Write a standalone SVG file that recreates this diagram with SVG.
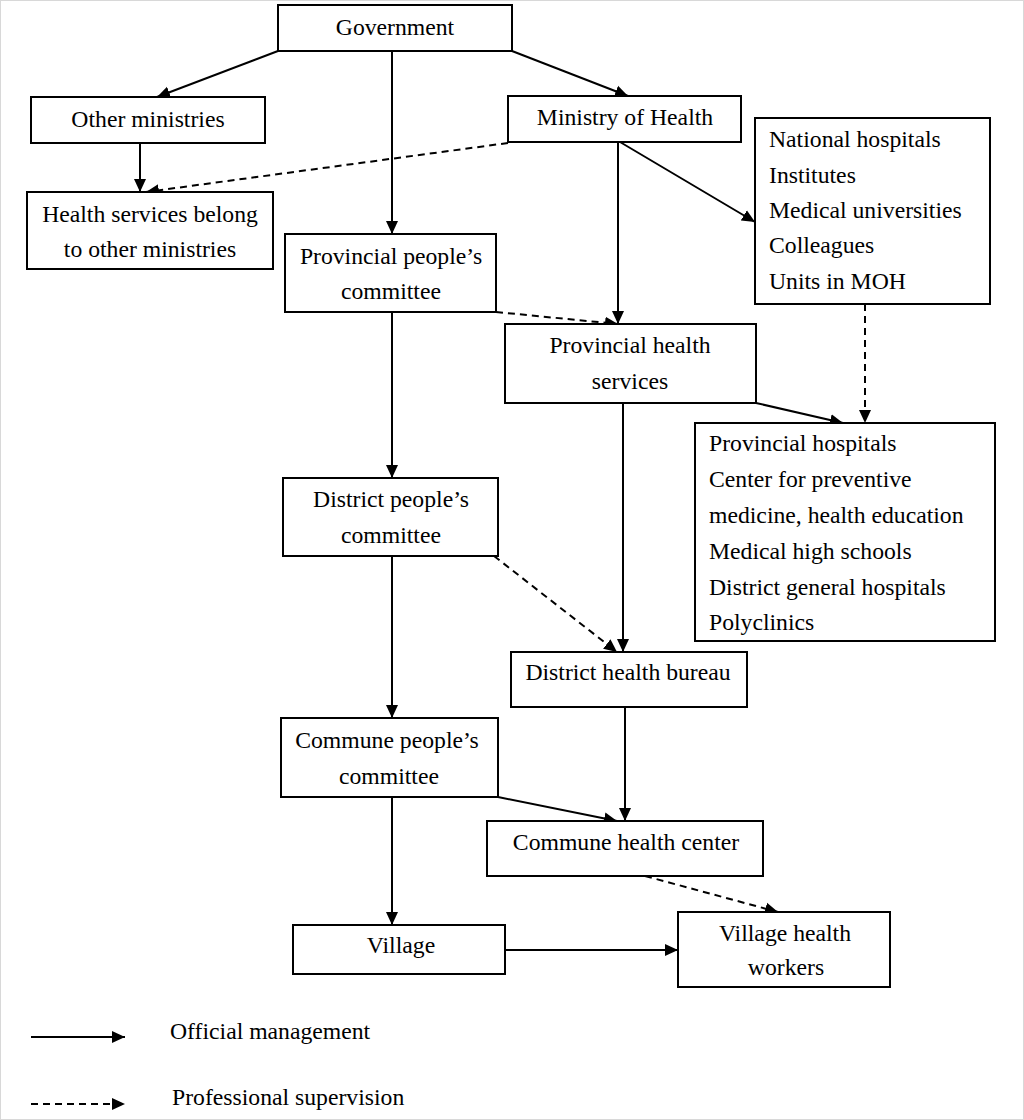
<svg xmlns="http://www.w3.org/2000/svg" width="1024" height="1120" viewBox="0 0 1024 1120">
<defs>
<marker id="ah" markerUnits="userSpaceOnUse" markerWidth="13" markerHeight="13" refX="13" refY="6.5" orient="auto" viewBox="0 0 13 13">
<path d="M0,0.5 L13,6.5 L0,12.5 z" fill="#000"/>
</marker>
</defs>
<style>
.box{fill:#fff;stroke:#000;stroke-width:2}
text{font-family:"Liberation Serif","Times New Roman",serif;font-size:23.7px;fill:#000}
.c{text-anchor:middle}
.s{stroke:#000;stroke-width:2;fill:none;marker-end:url(#ah)}
.d{stroke:#000;stroke-width:2;fill:none;stroke-dasharray:7 5;marker-end:url(#ah)}
</style>
<rect x="0.5" y="0.5" width="1023" height="1119" fill="#fff" stroke="#d8d8d8" stroke-width="1"/>
<g id="connectors">
<line class="s" x1="278" y1="51" x2="157" y2="97"/>
<line class="s" x1="392" y1="51" x2="392" y2="234"/>
<line class="s" x1="512" y1="51" x2="628" y2="96"/>
<line class="s" x1="140" y1="143" x2="140" y2="192"/>
<line class="d" x1="508" y1="143" x2="146" y2="192"/>
<line class="s" x1="618" y1="142" x2="618" y2="324"/>
<line class="s" x1="620" y1="142" x2="755" y2="222"/>
<line class="d" x1="496" y1="312" x2="618" y2="324"/>
<line class="d" x1="865" y1="304" x2="865" y2="423"/>
<line class="s" x1="756" y1="403" x2="843" y2="423"/>
<line class="s" x1="392" y1="312" x2="392" y2="478"/>
<line class="s" x1="623" y1="403" x2="623" y2="652"/>
<line class="d" x1="494" y1="556" x2="617" y2="652"/>
<line class="s" x1="392" y1="556" x2="392" y2="718"/>
<line class="s" x1="625" y1="707" x2="625" y2="821"/>
<line class="s" x1="498" y1="797" x2="617" y2="821"/>
<line class="s" x1="392" y1="797" x2="392" y2="925"/>
<line class="d" x1="645" y1="876" x2="778" y2="912"/>
<line class="s" x1="505" y1="950" x2="678" y2="950"/>
</g>
<g id="government"><rect class="box" x="278" y="5" width="234" height="46"/><text class="c" x="395" y="35">Government</text></g>
<g id="other-ministries"><rect class="box" x="31" y="97" width="234" height="46"/><text class="c" x="148" y="127">Other ministries</text></g>
<g id="ministry-of-health"><rect class="box" x="508" y="96" width="233" height="46"/><text class="c" x="625" y="125">Ministry of Health</text></g>
<g id="health-services-other"><rect class="box" x="27" y="192" width="246" height="77"/><text class="c" x="150" y="222">Health services belong</text><text class="c" x="150" y="257">to other ministries</text></g>
<g id="provincial-peoples-committee"><rect class="box" x="285" y="234" width="211" height="78"/><text class="c" x="391" y="264">Provincial people’s</text><text class="c" x="391" y="299">committee</text></g>
<g id="national-units"><rect class="box" x="755" y="118" width="235" height="186"/><text x="769" y="147">National hospitals</text><text x="769" y="183">Institutes</text><text x="769" y="218">Medical universities</text><text x="769" y="253">Colleagues</text><text x="769" y="289">Units in MOH</text></g>
<g id="provincial-health-services"><rect class="box" x="505" y="324" width="251" height="79"/><text class="c" x="630" y="353">Provincial health</text><text class="c" x="630" y="389">services</text></g>
<g id="provincial-units"><rect class="box" x="695" y="423" width="300" height="218"/><text x="709" y="451">Provincial hospitals</text><text x="709" y="487">Center for preventive</text><text x="709" y="523">medicine, health education</text><text x="709" y="559">Medical high schools</text><text x="709" y="595">District general hospitals</text><text x="709" y="630">Polyclinics</text></g>
<g id="district-peoples-committee"><rect class="box" x="283" y="478" width="215" height="78"/><text class="c" x="391" y="507">District people’s</text><text class="c" x="391" y="543">committee</text></g>
<g id="district-health-bureau"><rect class="box" x="511" y="652" width="236" height="55"/><text class="c" x="628" y="680">District health bureau</text></g>
<g id="commune-peoples-committee"><rect class="box" x="281" y="718" width="217" height="79"/><text class="c" x="387" y="748">Commune people’s</text><text class="c" x="389" y="784">committee</text></g>
<g id="commune-health-center"><rect class="box" x="487" y="821" width="276" height="55"/><text class="c" x="626" y="850">Commune health center</text></g>
<g id="village"><rect class="box" x="293" y="925" width="212" height="49"/><text class="c" x="401" y="953">Village</text></g>
<g id="village-health-workers"><rect class="box" x="678" y="912" width="212" height="75"/><text class="c" x="785" y="941">Village health</text><text class="c" x="786" y="975">workers</text></g>
<g id="legend">
<line class="s" x1="31" y1="1037" x2="125" y2="1037"/>
<text x="170" y="1039">Official management</text>
<line class="d" x1="31" y1="1104" x2="125" y2="1104"/>
<text x="172" y="1105">Professional supervision</text>
</g>
</svg>
